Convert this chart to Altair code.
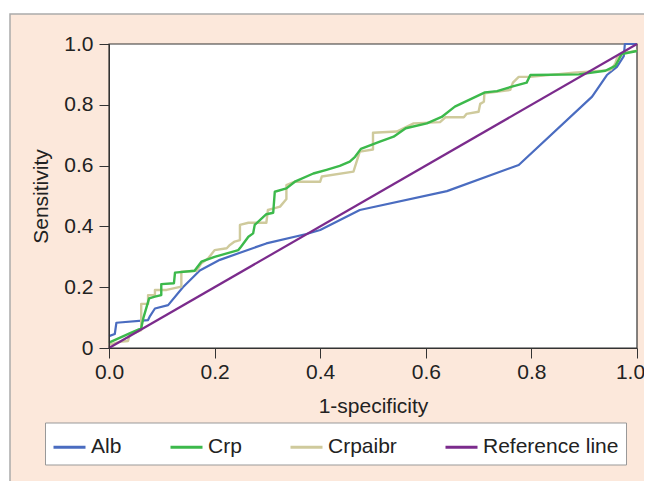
import altair as alt
import pandas as pd

series_names = ["Alb", "Crp", "Crpaibr", "Reference line"]
series_colors = ["#4a6cc0", "#3cb94b", "#cfca9c", "#7b2b8c"]

alb_x = [0.0, 0.011, 0.014, 0.074, 0.077, 0.087, 0.112, 0.14, 0.172, 0.21, 0.298, 0.374, 0.40,
         0.475, 0.64, 0.776, 0.915, 0.943, 0.962, 0.975, 0.977, 1.0]
alb_y = [0.039, 0.046, 0.083, 0.092, 0.103, 0.13, 0.141, 0.2, 0.255, 0.29, 0.344, 0.375, 0.388,
         0.454, 0.516, 0.602, 0.827, 0.898, 0.925, 0.96, 1.0, 1.0]

crp_x = [0.0, 0.039, 0.061, 0.065, 0.076, 0.087, 0.099, 0.099, 0.123, 0.125, 0.162, 0.175, 0.2,
         0.245, 0.25, 0.264, 0.273, 0.276, 0.298, 0.311, 0.314, 0.336, 0.352, 0.387, 0.412,
         0.437, 0.456, 0.466, 0.477, 0.513, 0.539, 0.562, 0.602, 0.630, 0.655, 0.712, 0.735,
         0.763, 0.791, 0.798, 0.89, 0.94, 0.959, 0.965, 0.971, 1.0]
crp_y = [0.018, 0.048, 0.065, 0.098, 0.163, 0.169, 0.174, 0.21, 0.213, 0.248, 0.254, 0.284, 0.30,
         0.322, 0.333, 0.366, 0.377, 0.405, 0.44, 0.445, 0.514, 0.525, 0.547, 0.574, 0.586,
         0.599, 0.613, 0.629, 0.655, 0.679, 0.695, 0.723, 0.739, 0.760, 0.794, 0.841, 0.845,
         0.86, 0.873, 0.898, 0.90, 0.912, 0.928, 0.947, 0.967, 0.977]

crpaibr_x = [0.0, 0.02, 0.036, 0.039, 0.061, 0.061, 0.074, 0.074, 0.087, 0.087, 0.109, 0.137,
             0.137, 0.166, 0.175, 0.188, 0.2, 0.223, 0.229, 0.238, 0.248, 0.248, 0.264, 0.298,
             0.301, 0.314, 0.324, 0.336, 0.336, 0.352, 0.40, 0.403, 0.463, 0.475, 0.5, 0.5,
             0.545, 0.577, 0.627, 0.637, 0.672, 0.677, 0.70, 0.703, 0.71, 0.711, 0.76, 0.765,
             0.776, 0.798, 0.88, 0.95, 0.959, 0.962, 0.975, 1.0]
crpaibr_y = [0.01, 0.02, 0.023, 0.043, 0.059, 0.145, 0.145, 0.174, 0.174, 0.191, 0.191, 0.202,
             0.251, 0.254, 0.279, 0.295, 0.322, 0.328, 0.339, 0.35, 0.355, 0.405, 0.412, 0.412,
             0.454, 0.46, 0.465, 0.49, 0.536, 0.547, 0.547, 0.564, 0.58, 0.646, 0.653, 0.708,
             0.712, 0.739, 0.743, 0.759, 0.759, 0.77, 0.777, 0.803, 0.81, 0.838, 0.849, 0.873,
             0.892, 0.892, 0.906, 0.914, 0.936, 0.953, 0.97, 0.978]

ref_x = [0.0, 1.0]
ref_y = [0.0, 1.0]

x_ticks = [0.0, 0.2, 0.4, 0.6, 0.8, 1.0]
y_ticks = [0.0, 0.2, 0.4, 0.6, 0.8, 1.0]

rows = []
for name, xs, ys in [("Alb", alb_x, alb_y), ("Crp", crp_x, crp_y),
                     ("Crpaibr", crpaibr_x, crpaibr_y), ("Reference line", ref_x, ref_y)]:
    for i, (xv, yv) in enumerate(zip(xs, ys)):
        rows.append({"series": name, "x": xv, "y": yv, "idx": i})
df = pd.DataFrame(rows)

FONT = "Liberation Sans"
W, H = 528, 304

xaxis = alt.Axis(title="1-specificity", values=x_ticks, format=".1f", grid=False,
                 tickSize=10, labelPadding=3, labelFlush=False, labelOverlap=False,
                 labelOffset={"condition": {"test": "datum.value == 1", "value": -7}, "value": 0},
                 titleX=264, titleY=64, titleBaseline="alphabetic", titleAlign="center",
                 zindex=1, domainColor="#333333", tickColor="#333333",
                 labelFontSize=21, titleFontSize=21, titleFontWeight="normal",
                 labelColor="#222222", titleColor="#222222", labelFont=FONT, titleFont=FONT)
yaxis = alt.Axis(title="Sensitivity", values=y_ticks,
                 labelExpr="datum.value == 0 ? '0' : format(datum.value, '.1f')",
                 grid=False, tickSize=10, labelPadding=6, labelFlush=False, labelOverlap=False,
                 titleX=-62, titleY=152, titleAngle=270, titleBaseline="alphabetic",
                 titleAlign="center", zindex=1, domainColor="#333333", tickColor="#333333",
                 labelFontSize=21, titleFontSize=21, titleFontWeight="normal",
                 labelColor="#222222", titleColor="#222222", labelFont=FONT, titleFont=FONT)

legend = alt.Legend(title=None, orient="none", legendX=-64, legendY=378.5, direction="horizontal",
                    columns=4, fillColor="white", strokeColor="#999999", padding=7,
                    symbolType="stroke", symbolSize=1024, symbolStrokeWidth=3,
                    labelFontSize=21, labelFont=FONT, labelColor="#222222", labelOffset=4,
                    columnPadding=42)

color = alt.Color("series:N", scale=alt.Scale(domain=series_names, range=series_colors),
                  legend=legend)

dummy = pd.DataFrame({"k": [0]})
panel = alt.Chart(dummy).mark_rect(fill="#fce8db", stroke="#aaaaaa", strokeWidth=1.5).encode(
    x=alt.value(-99), x2=alt.value(700), y=alt.value(-30), y2=alt.value(600))
plotbg = alt.Chart(dummy).mark_rect(fill="white", stroke="#333333", strokeWidth=1.2).encode(
    x=alt.value(0), x2=alt.value(W), y=alt.value(0), y2=alt.value(H))


def line_layer(name, width):
    return alt.Chart(df).transform_filter(alt.datum.series == name).mark_line(
        strokeWidth=width, strokeJoin="round").encode(
        x=alt.X("x:Q", scale=alt.Scale(domain=[0, 1]), axis=xaxis),
        y=alt.Y("y:Q", scale=alt.Scale(domain=[0, 1]), axis=yaxis),
        color=color,
        order=alt.Order("idx:Q"))


chart = alt.layer(
    panel, plotbg,
    line_layer("Alb", 2.2),
    line_layer("Crpaibr", 2.4),
    line_layer("Crp", 2.4),
    line_layer("Reference line", 2.2),
).properties(
    width=W, height=H,
    autosize=alt.AutoSizeParams(type="none"),
    padding={"left": 101, "top": 36, "right": 7, "bottom": 133},
).configure(background="white", font=FONT).configure_view(stroke=None)

chart.save("out.html", embed_options={"renderer": "svg", "actions": False})
